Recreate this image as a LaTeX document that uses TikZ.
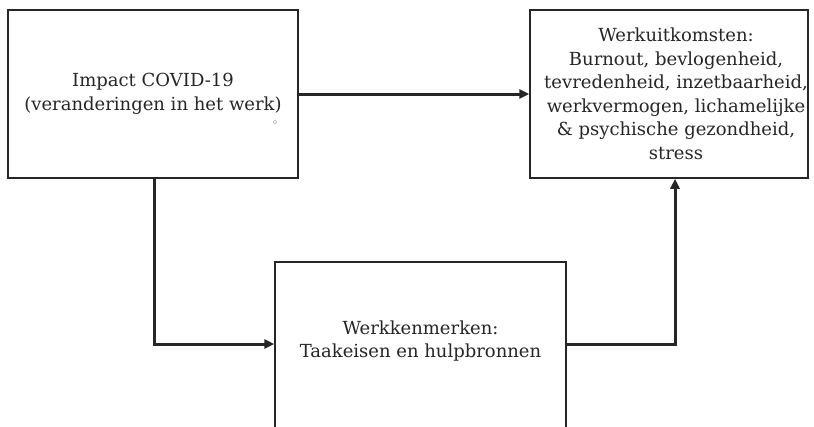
\documentclass[tikz,border=0pt]{standalone}
\usepackage{fontspec}
\setmainfont{DejaVu Serif}
\usetikzlibrary{arrows.meta}
\begin{document}
\begin{tikzpicture}[x=1pt,y=-1pt,
  box/.style={draw=black!85, line width=1.5pt, inner sep=0pt},
  txt/.style={align=center, inner sep=0pt, text=black!85, font=\fontsize{18}{23.5}\selectfont},
  conn/.style={line width=3pt, draw=black!85, -{Triangle[length=10pt,width=9pt]}}]
\clip (0,0) rectangle (814,426);
\fill[white] (0,0) rectangle (814,426);
\node[box, txt, minimum width=290pt, minimum height=168pt] (impact) at (153,94)
  {Impact COVID-19\\(veranderingen in het werk)};
\node[box, minimum width=278pt, minimum height=168pt] (outcome) at (669,94) {};
\node[txt] (outcometext) at (676,94)
  {Werkuitkomsten:\\Burnout, bevlogenheid,\\tevredenheid, inzetbaarheid,\\werkvermogen, lichamelijke\\\& psychische gezondheid,\\stress};
\node[box, minimum width=291pt, minimum height=176pt] (werk) at (420.5,350) {};
\node[txt] (werktext) at (420.5,341) {Werkkenmerken:\\Taakeisen en hulpbronnen};
\node[circle, draw=gray!60, inner sep=0pt, minimum size=3.5pt, line width=0.5pt] (dot) at (275,122) {};
\draw[conn] (impact.east) -- (outcome.west);
\draw[conn] ([xshift=1pt]impact.south) |- ([yshift=6pt]werk.west);
\draw[conn] ([yshift=6pt]werk.east) -| ([xshift=6pt]outcome.south);
\end{tikzpicture}
\end{document}
